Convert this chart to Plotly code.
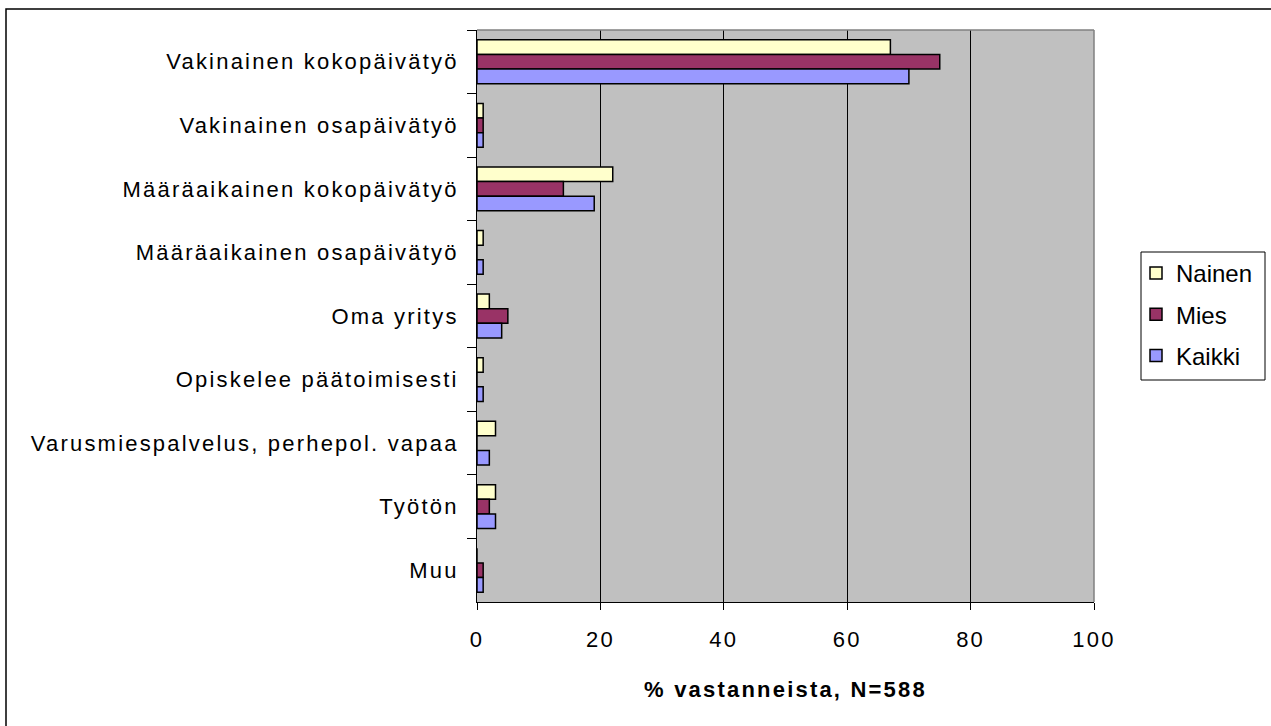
import plotly.graph_objects as go

categories = [
    "Vakinainen kokopäivätyö",
    "Vakinainen osapäivätyö",
    "Määräaikainen kokopäivätyö",
    "Määräaikainen osapäivätyö",
    "Oma yritys",
    "Opiskelee päätoimisesti",
    "Varusmiespalvelus, perhepol. vapaa",
    "Työtön",
    "Muu",
]
nainen = [67, 1, 22, 1, 2, 1, 3, 3, 0]
mies = [75, 1, 14, 0, 5, 0, 0, 2, 1]
kaikki = [70, 1, 19, 1, 4, 1, 2, 3, 1]
x_ticks = [0, 20, 40, 60, 80, 100]
x_title = "% vastanneista, N=588"

series = [("Nainen", nainen, "#FFFFCC"), ("Mies", mies, "#993366"), ("Kaikki", kaikki, "#9999FF")]

W, H = 1271, 726
L, R, T, B = 477, 177, 30, 124
pw, ph = W - L - R, H - T - B

def px(x):
    return (x - L) / pw

def py(y):
    return (H - B - y) / ph

fig = go.Figure()
for i, (name, vals, col) in enumerate(series):
    fig.add_trace(go.Bar(
        y=categories, x=vals, name=name, orientation="h",
        marker=dict(color=col, line=dict(color="black", width=1.5)),
        legendgroup=f"g{i}",
    ))

font = "Liberation Sans, Arial, sans-serif"
FS = 22
fig.update_layout(
    width=W, height=H,
    margin=dict(l=L, r=R, t=T, b=B),
    paper_bgcolor="white", plot_bgcolor="#C0C0C0",
    font=dict(family=font, size=FS, color="black"),
    barmode="group", bargap=0.31, bargroupgap=0,
    legend=dict(
        x=px(1136), y=py(251), xanchor="left", yanchor="top",
        borderwidth=0, bgcolor="rgba(0,0,0,0)",
        font=dict(size=24), traceorder="grouped", tracegroupgap=7,
        itemwidth=30,
    ),
    xaxis=dict(
        range=[0, 100], tickvals=x_ticks, ticks="outside", ticklen=7,
        tickcolor="black", showline=True, linecolor="black", linewidth=1,
        showgrid=True, gridcolor="black", gridwidth=1, zeroline=False,
        tickfont=dict(size=FS), ticklabelstandoff=11,
        title=dict(text="<b>" + x_title + "</b>", font=dict(size=FS), standoff=30),
    ),
    yaxis=dict(
        type="category", categoryorder="array", categoryarray=categories,
        autorange="reversed", tickson="boundaries", ticks="outside", ticklen=9,
        tickcolor="black", showline=True, linecolor="black", linewidth=1,
        showgrid=False, tickfont=dict(size=FS), ticklabelstandoff=13,
    ),
    shapes=[
        dict(type="line", xref="paper", yref="paper", x0=0, x1=1, y0=1, y1=1,
             line=dict(color="#808080", width=1.5)),
        dict(type="line", xref="paper", yref="paper", x0=1, x1=1, y0=0, y1=1,
             line=dict(color="#808080", width=1.5)),
        dict(type="rect", xref="paper", yref="paper",
             x0=px(6), x1=px(1280), y0=py(9), y1=py(740),
             line=dict(color="black", width=1.5)),
        dict(type="rect", xref="paper", yref="paper",
             x0=px(1141), x1=px(1265), y0=py(252), y1=py(380),
             line=dict(color="black", width=1), fillcolor="white", layer="below"),
    ],
)

post = """
document.body.style.margin='0';
document.body.style.overflow='hidden';
var st=document.createElement('style');
st.textContent='text{letter-spacing:2.2px;} text.legendtext{letter-spacing:0px;}';
document.head.appendChild(st);
"""

fig.write_html("out.html", post_script=post, config={"displayModeBar": False, "staticPlot": True})
